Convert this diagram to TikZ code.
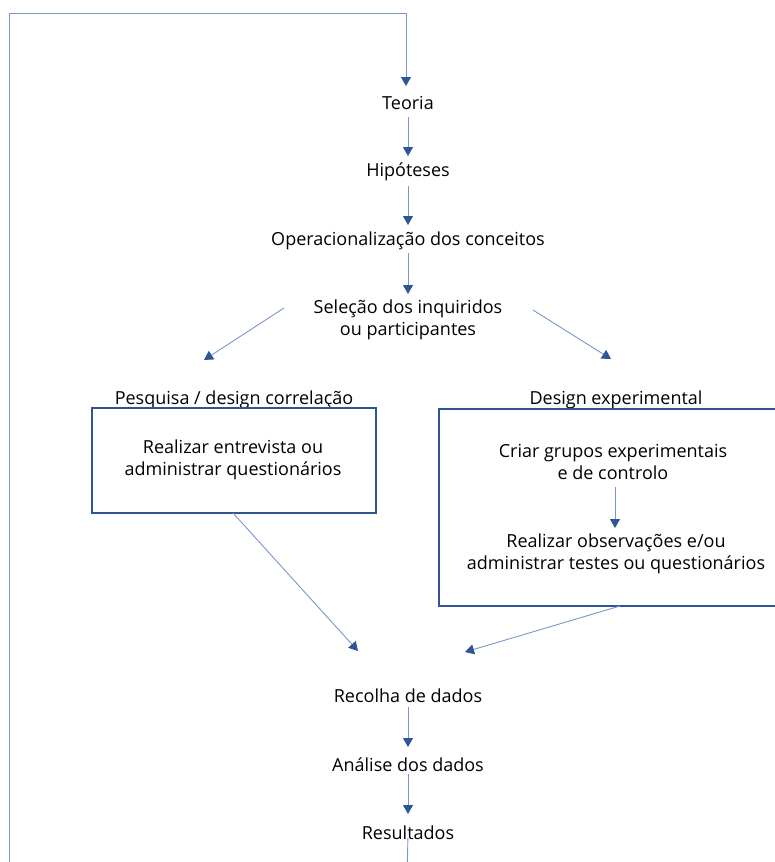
\documentclass[tikz,border=0pt]{standalone}
\usepackage{fontspec}
\setmainfont{Open Sans}
\usetikzlibrary{arrows.meta, positioning}
\definecolor{lineblue}{HTML}{7A96CC}
\definecolor{headblue}{HTML}{2F5597}

\begin{document}
\begin{tikzpicture}[
  x=1pt, y=-1pt,
  font=\fontsize{18}{22}\selectfont,
  txt/.style={inner sep=0pt, align=center},
  boxS/.style={draw=headblue, line width=1.3pt},
  arrowB/.style={draw=lineblue, line width=0.9pt,
    arrows={-Triangle[width=10pt, length=9pt, color=headblue]}},
  lineB/.style={draw=lineblue, line width=0.9pt},
  down/.style={arrowB, shorten <=#1, shorten >=16pt}
]
\clip (0,0) rectangle (775,862);

% Main column
\node[txt] (teoria) at (408,103) {Teoria};
\node[txt] (hip) at (408,172) {Hipóteses};
\node[txt] (oper) at (408,241) {Operacionalização dos conceitos};
\node[txt] (sel) at (408,320) {Seleção dos inquiridos\\ou participantes};

% Two designs
\node[txt] (pesq) at (234,400) {Pesquisa / design correlação};
\node[txt] (exper) at (616,400) {Design experimental};
\draw[boxS] (92,408) rectangle (376,513);
\draw[boxS] (439,409) rectangle (790,606);
\node[txt] (entrev) at (233,460) {Realizar entrevista ou\\administrar questionários};
\node[txt] (grupos) at (613,462) {Criar grupos experimentais\\e de controlo};
\node[txt] (observ) at (616,554) {Realizar observações e/ou\\administrar testes ou questionários};

% Lower column
\node[txt] (recolha) at (408,696) {Recolha de dados};
\node[txt] (analise) at (408,765) {Análise dos dados};
\node[txt] (result) at (408,833) {Resultados};

% Free ends
\coordinate (selL) at (284,308);
\coordinate (selR) at (533,310);
\coordinate (pesqT) at (204,360);
\coordinate (experT) at (611,359);
\coordinate (grupB) at (615,487);
\coordinate (observT) at (615,528);
\coordinate (entrevB) at (233,513);
\coordinate (observB) at (620,606);
\coordinate (recolhaL) at (358,651);
\coordinate (recolhaR) at (465,652);
\coordinate (loopB) at (407,880);
\coordinate (loopL) at (9,880);
\coordinate (loopT) at (9,13);
\coordinate (teoriaT) at (406,86);

% Arrows
\draw[down=14pt] (teoria.center) -- (hip.center);
\draw[down=14pt] (hip.center) -- (oper.center);
\draw[arrowB, shorten <=12pt, shorten >=26pt] (oper.center) -- (sel.center);
\draw[arrowB] (selL) -- (pesqT);
\draw[arrowB] (selR) -- (experT);
\draw[arrowB] (grupB) -- (observT);
\draw[arrowB] (entrevB) -- (recolhaL);
\draw[arrowB] (observB) -- (recolhaR);
\draw[arrowB, shorten <=11pt, shorten >=18pt] (recolha.center) -- (analise.center);
\draw[arrowB, shorten <=9pt, shorten >=19pt] (analise.center) -- (result.center);

% Feedback loop
\draw[lineB, shorten <=5pt] (result.center) -- (loopB);
\draw[arrowB] (loopL) -- (loopT) -| (teoriaT);
\end{tikzpicture}
\end{document}
